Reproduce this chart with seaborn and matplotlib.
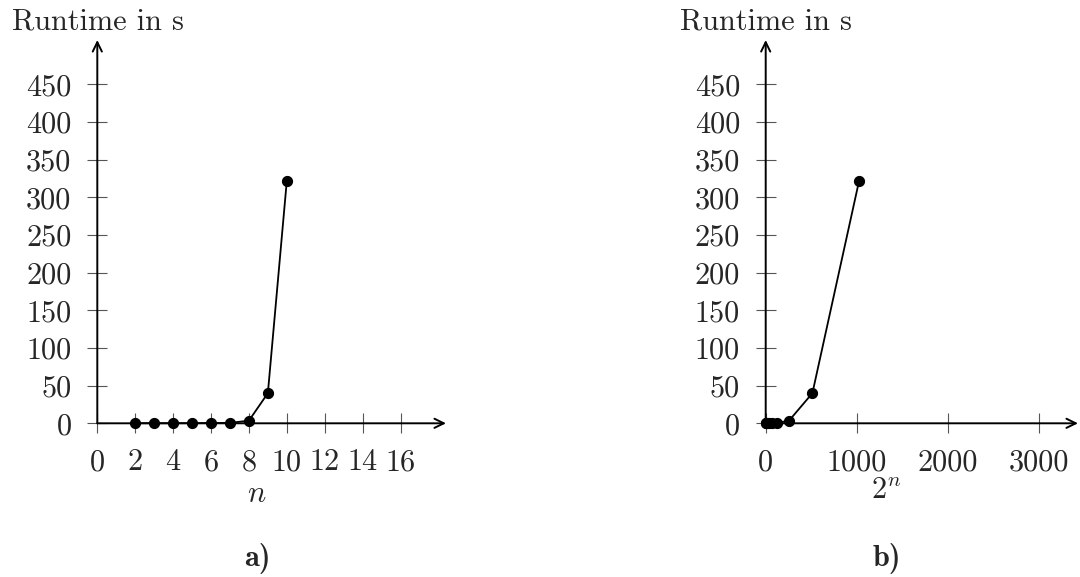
import matplotlib
matplotlib.use('Agg')
import matplotlib.pyplot as plt
import seaborn as sns

# measured runtimes (seconds) per problem size n
n = [2, 3, 4, 5, 6, 7, 8, 9, 10]
runtime = [0.1, 0.1, 0.1, 0.2, 0.3, 0.6, 3.5, 40, 322]
two_n = [4, 8, 16, 32, 64, 128, 256, 512, 1024]

y_ticks = [0, 50, 100, 150, 200, 250, 300, 350, 400, 450]
x_ticks_a = [0, 2, 4, 6, 8, 10, 12, 14, 16]
x_ticks_b = [0, 1000, 2000, 3000]

sns.set_style('white')
plt.rcParams.update({
    'font.family': 'cmr10',
    'mathtext.fontset': 'cm',
    'axes.unicode_minus': False,
    'font.size': 21.8,
})

W, H = 1080, 577
fig = plt.figure(figsize=(10.8, 5.77), dpi=100)


def make_axes(x0, x1, xmax, xticks, xdata, ydata):
    ax = fig.add_axes([x0 / W, 1 - 423.3 / H, (x1 - x0) / W, (423.3 - 40) / H])
    sns.lineplot(x=xdata, y=ydata, ax=ax, color='black', marker='o',
                 markersize=7.3, markeredgecolor='black', linewidth=1.3,
                 clip_on=False, zorder=5)
    ax.set_xlim(0, xmax)
    ax.set_ylim(0, 509)
    ax.set_xticks(xticks)
    ax.set_yticks(y_ticks)
    ax.set_xlabel('')
    ax.set_ylabel('')
    for s in ax.spines.values():
        s.set_visible(False)
    ax.tick_params(bottom=True, left=True, direction='inout', length=15,
                   width=0.8, color='#555555', pad=11, labelsize=21.8)
    arrow = dict(arrowstyle='->,head_length=0.45,head_width=0.22', lw=1.4,
                 color='black', mutation_scale=15, shrinkA=0, shrinkB=0)
    ax.annotate('', xy=(1, 0), xytext=(0, 0), xycoords='axes fraction',
                arrowprops=arrow, annotation_clip=False)
    ax.annotate('', xy=(0, 1), xytext=(0, 0), xycoords='axes fraction',
                arrowprops=arrow, annotation_clip=False)
    return ax


make_axes(97.3, 446, 18.4, x_ticks_a, n, runtime)
make_axes(765.7, 1078, 3424, x_ticks_b, two_n, runtime)

fig.text(98 / W, 1 - 30 / H, 'Runtime in s', ha='center', va='baseline')
fig.text(766 / W, 1 - 30 / H, 'Runtime in s', ha='center', va='baseline')
fig.text(257 / W, 1 - 494 / H, '$n$', ha='center', va='center')
fig.text(886 / W, 1 - 491 / H, '$2^n$', ha='center', va='center')
fig.text(257 / W, 1 - 558 / H, 'a)', ha='center', va='center', fontfamily='cmb10')
fig.text(887 / W, 1 - 558 / H, 'b)', ha='center', va='center', fontfamily='cmb10')

fig.savefig('out.png', dpi=100)
